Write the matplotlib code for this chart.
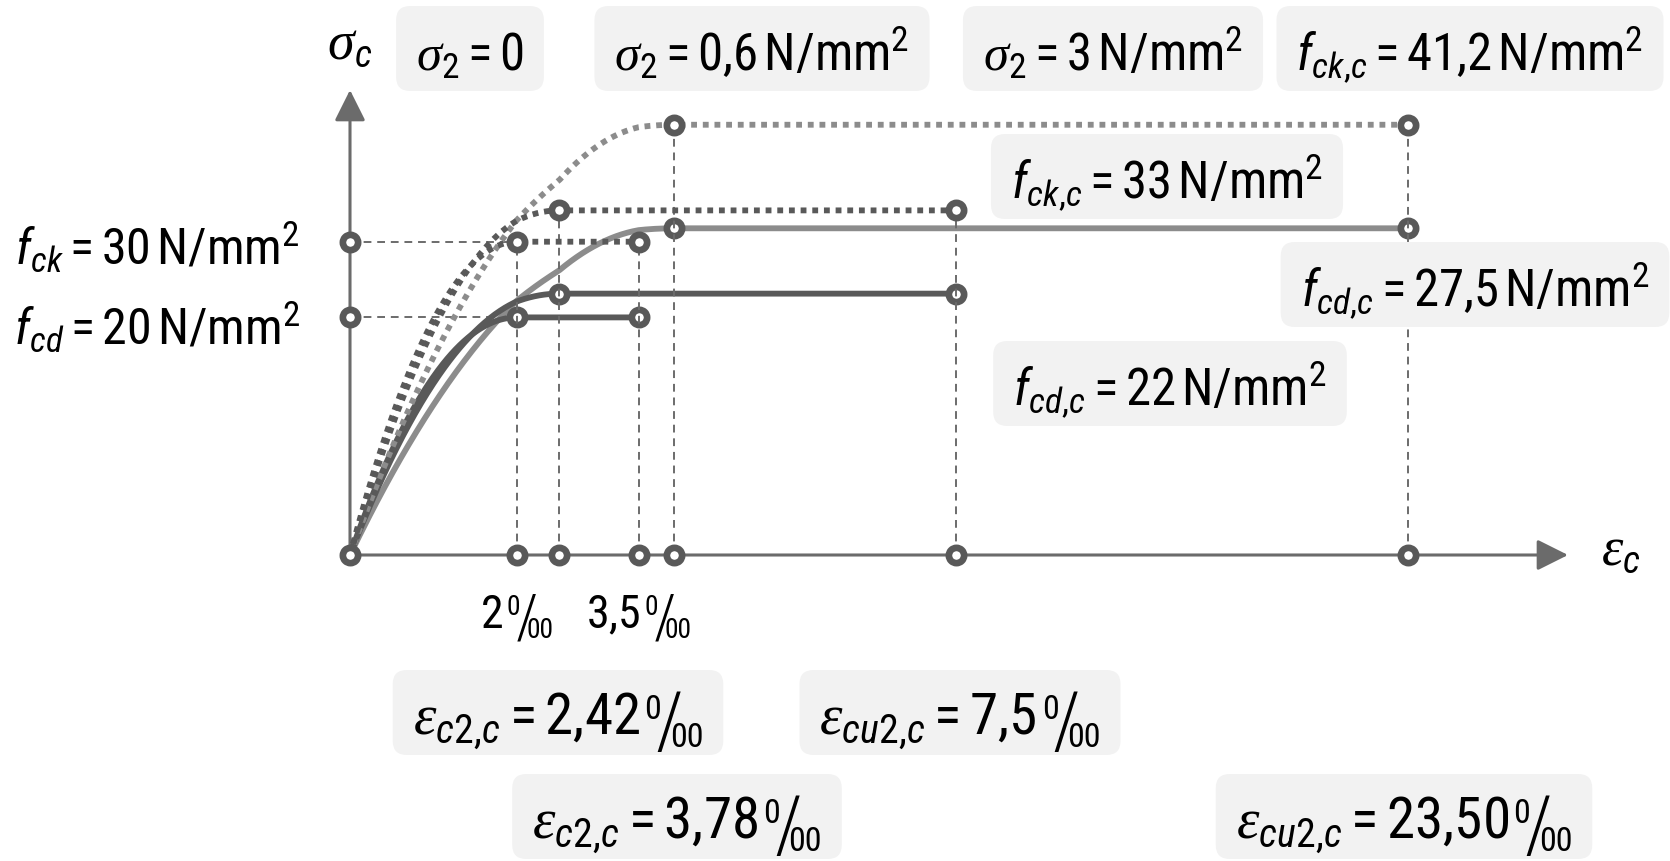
import numpy as np
import matplotlib
matplotlib.use('Agg')
import matplotlib.pyplot as plt
import matplotlib.transforms as mtransforms
from matplotlib import font_manager
from matplotlib.patches import FancyBboxPatch

W, H = 1670, 861

# parabola-rectangle diagrams, one per lateral pressure sigma_2
sigma2_labels = ['0', '0,6', '3']
eps_c2 = [2.0, 2.42, 3.78]    # strain at peak stress, permille
eps_cu2 = [3.5, 7.5, 23.5]    # ultimate strain, permille
f_ck = [30.0, 33.0, 41.2]     # characteristic strength, N/mm2
f_cd = [20.0, 22.0, 27.5]     # design strength, N/mm2
n_exp = 2.0

# schematic strain axis: piecewise linear map permille -> px from the origin
eps_knots = [-10.0, 0.0, 2.0, 2.42, 3.5, 3.78, 7.5, 23.5, 60.0]
px_knots = [-833.0, 0.0, 166.7, 209.0, 289.0, 324.0, 606.0, 1057.7, 2087.0]
px_per_fck = 10.443
px_per_fcd = 11.88
origin_px = (350.0, 555.0)   # from top-left

dark = '#595959'
light = '#8c8c8c'
axis_c = '#6b6b6b'
box_fc = '#f2f2f2'


def fwd(e):
    return np.interp(e, eps_knots, px_knots)


def inv(u):
    return np.interp(u, px_knots, eps_knots)


narrow = 'Liberation Sans'
for cand in ['Liberation Sans Narrow', 'Arial Narrow', 'Roboto Condensed', 'Archivo Narrow']:
    try:
        font_manager.findfont(font_manager.FontProperties(family=cand), fallback_to_default=False)
        narrow = cand
        break
    except ValueError:
        pass

plt.rcParams['font.family'] = [narrow, 'DejaVu Sans']
plt.rcParams['mathtext.fontset'] = 'custom'
plt.rcParams['mathtext.rm'] = narrow
plt.rcParams['mathtext.it'] = narrow + ':italic'
plt.rcParams['mathtext.cal'] = 'Liberation Serif:italic'

fig = plt.figure(figsize=(W / 100, H / 100), dpi=100)
ax_d = fig.add_axes([0, 0, 1, 1])
ax_k = fig.add_axes([0, 0, 1, 1], sharex=ax_d)
ax_k.patch.set_visible(False)
for a in (ax_d, ax_k):
    a.set_xscale('function', functions=(fwd, inv))
    a.axis('off')
ax_d.set_xlim(inv(-origin_px[0]), inv(W - origin_px[0]))
ax_d.set_ylim(-(H - origin_px[1]) / px_per_fcd, origin_px[1] / px_per_fcd)
ax_k.set_ylim(-(H - origin_px[1]) / px_per_fck, origin_px[1] / px_per_fck)

guide = dict(color=axis_c, lw=1.4, ls=(0, (4, 3)), zorder=1)
mk = dict(ls='none', marker='o', ms=11, mfc='white', mec=dark, mew=4.8, zorder=6)


def draw_curve(ax, fc, ec2, ecu2, color, ls, z):
    e = np.linspace(0, ec2, 200)
    s = fc * (1 - (1 - e / ec2) ** n_exp)
    e = np.append(e, ecu2)
    s = np.append(s, fc)
    ax.plot(e, s, color=color, lw=4.2, ls=ls, zorder=z,
            solid_capstyle='butt', dash_capstyle='butt')
    ax.plot([ec2, ecu2], [fc, fc], **mk)


# guide lines to the axes
ax_k.plot([0, eps_c2[0]], [f_ck[0], f_ck[0]], **guide)
ax_d.plot([0, eps_c2[0]], [f_cd[0], f_cd[0]], **guide)
for i in range(3):
    for e in (eps_c2[i], eps_cu2[i]):
        ax_k.plot([e, e], [0, f_ck[i]], **guide)

cols = [dark, dark, light]
for i in [2, 0, 1]:
    z = 3 if i == 2 else 4
    draw_curve(ax_d, f_cd[i], eps_c2[i], eps_cu2[i], cols[i], '-', z)
    draw_curve(ax_k, f_ck[i], eps_c2[i], eps_cu2[i], cols[i], (0, (1, 1)), z)

# axes with arrows
o = ax_d.transData.transform((0, 0))
arrow = dict(arrowstyle='-|>,head_length=1.9,head_width=0.95', mutation_scale=10,
             lw=2.2, color=axis_c, shrinkA=0, shrinkB=0)
ax_d.annotate('', xy=(1568, o[1]), xytext=(o[0], o[1]), xycoords='figure pixels',
              textcoords='figure pixels', arrowprops=arrow, zorder=2)
ax_d.annotate('', xy=(o[0], H - 90), xytext=(o[0], o[1]), xycoords='figure pixels',
              textcoords='figure pixels', arrowprops=arrow, zorder=2)

# axis points
strains = sorted(set([0.0] + eps_c2 + eps_cu2))
ax_k.plot(strains, [0] * len(strains), **mk)
ax_k.plot([0], [f_ck[0]], **mk)
ax_d.plot([0], [f_cd[0]], **mk)

# labels
renderer = fig.canvas.get_renderer()
ident = mtransforms.IdentityTransform()
sig = r'\mathcal{\sigma}'
eps = r'\mathcal{\varepsilon}'


def num(v, fmt='%g'):
    s = v if isinstance(v, str) else fmt % v
    return s.replace('.', ',').replace(',', '{,}')


def rich_label(x, base, main, size, permille=False, box=True, ha='center'):
    """Mathtext label with an optional per-mille sign built from 0 / 00,
    placed by its baseline (px from top)."""
    em = size * 100 / 72.0
    dh = 0.716 * em
    by = H - base
    parts = []
    t = fig.text(0, by, main, fontsize=size, ha='left', va='baseline', transform=ident, zorder=5)
    w = t.get_window_extent(renderer).width
    parts.append((t, 0.0))
    if permille:
        x0 = w + 0.08 * em
        t1 = fig.text(0, by + 0.40 * dh, '0', fontsize=0.6 * size, ha='left', va='baseline',
                      transform=ident, zorder=5)
        w1 = t1.get_window_extent(renderer).width
        parts.append((t1, x0))
        x2 = x0 + w1 - 0.10 * em
        t2 = fig.text(0, by - 0.30 * dh, '/', fontsize=1.36 * size, ha='left', va='baseline',
                      fontweight=200, transform=ident, zorder=5)
        w2 = t2.get_window_extent(renderer).width
        parts.append((t2, x2))
        t3 = fig.text(0, by - 0.30 * dh, '00', fontsize=0.6 * size, ha='left', va='baseline',
                      transform=ident, zorder=5)
        parts.append((t3, x2 + 0.52 * w2))
    total = max(dx + p.get_window_extent(renderer).width for p, dx in parts)
    left = x - total / 2 if ha == 'center' else x - total
    for p, dx in parts:
        p.set_x(left + dx)
    if box:
        fig.add_artist(FancyBboxPatch((left - 20, by - 20), total + 40, 85,
                                      boxstyle='round,pad=0,rounding_size=14',
                                      fc=box_fc, ec='none', transform=ident, zorder=0.5))


rich_label(350, 59, r'$%s_c$' % sig, 39, box=False)
rich_label(1621, 565, r'$%s_c$' % eps, 39, box=False)
rich_label(300, 264, r'$f_{ck} = %s\,\mathrm{N/mm}^2$' % num(f_ck[0]), 36, box=False, ha='right')
rich_label(300, 344, r'$f_{cd} = %s\,\mathrm{N/mm}^2$' % num(f_cd[0]), 36, box=False, ha='right')

rich_label(470, 71, r'$%s_2 = %s$' % (sig, sigma2_labels[0]), 36.5)
rich_label(762, 71, r'$%s_2 = %s\,\mathrm{N/mm}^2$' % (sig, num(sigma2_labels[1])), 36.5)
rich_label(1113, 71, r'$%s_2 = %s\,\mathrm{N/mm}^2$' % (sig, sigma2_labels[2]), 36.5)

rich_label(1470, 71, r'$f_{ck{,}c} = %s\,\mathrm{N/mm}^2$' % num(f_ck[2]), 36.5)
rich_label(1167, 199, r'$f_{ck{,}c} = %s\,\mathrm{N/mm}^2$' % num(f_ck[1]), 36.5)
rich_label(1475, 307, r'$f_{cd{,}c} = %s\,\mathrm{N/mm}^2$' % num(f_cd[2]), 36.5)
rich_label(1170, 406, r'$f_{cd{,}c} = %s\,\mathrm{N/mm}^2$' % num(f_cd[1]), 36.5)

rich_label(558, 735, r'$%s_{c2{,}c} = %s$' % (eps, num(eps_c2[1])), 41, permille=True)
rich_label(960, 735, r'$%s_{cu2{,}c} = %s$' % (eps, num(eps_cu2[1])), 41, permille=True)
rich_label(677, 839, r'$%s_{c2{,}c} = %s$' % (eps, num(eps_c2[2])), 41, permille=True)
rich_label(1404, 839, r'$%s_{cu2{,}c} = %s$' % (eps, num(eps_cu2[2], '%.2f')), 41, permille=True)

# strain marks below the axis
for e in (eps_c2[0], eps_cu2[0]):
    xc = ax_d.transData.transform((e, 0))[0]
    rich_label(xc, 628, r'$%s$' % num(e), 33, permille=True, box=False)

fig.savefig('out.png', dpi=100)
